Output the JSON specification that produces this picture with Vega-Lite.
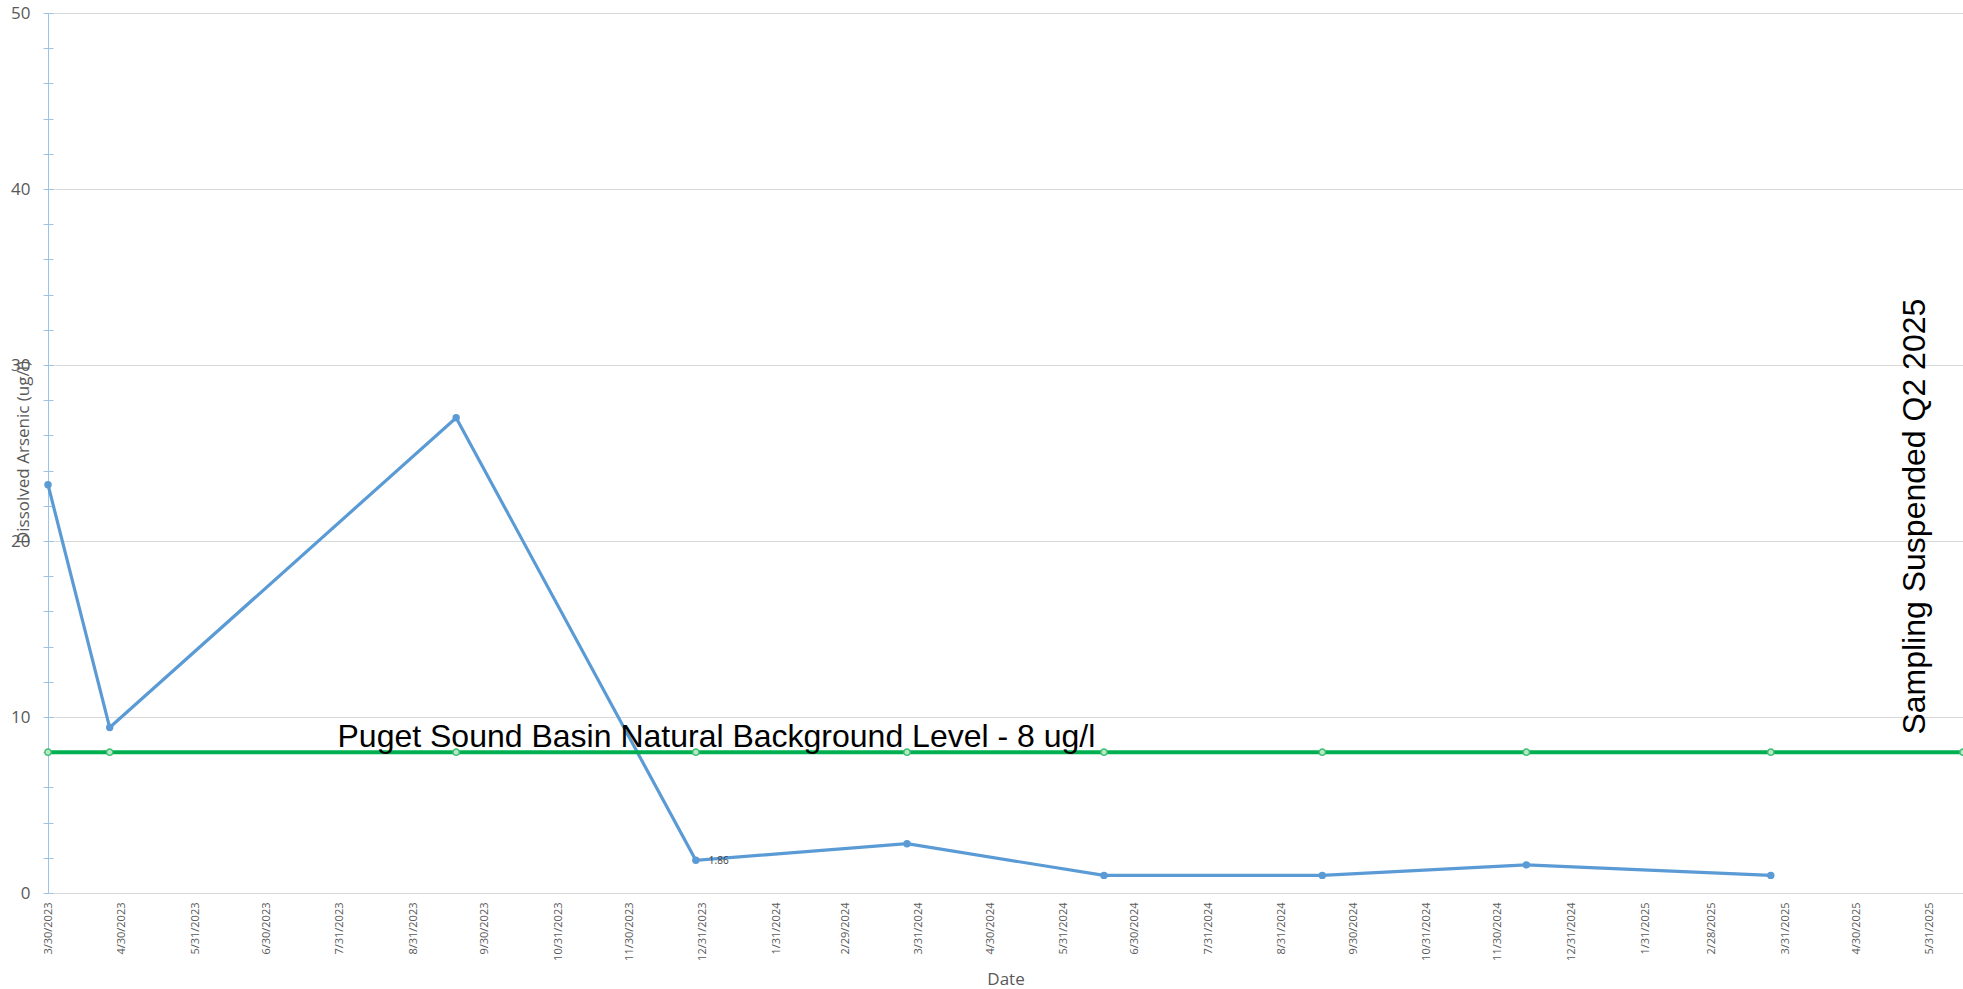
{
  "$schema": "https://vega.github.io/schema/vega-lite/v6.json",
  "width": 1915,
  "height": 880,
  "autosize": {"type": "none"},
  "padding": {"left": 48, "top": 13, "right": 0, "bottom": 96},
  "background": "white",
  "config": {"view": {"stroke": null}, "font": "Open Sans"},
  "datasets": {
    "arsenic": [
      {"date": "2023-03-30", "value": 23.2},
      {"date": "2023-04-25", "value": 9.4},
      {"date": "2023-09-18", "value": 27.0},
      {"date": "2023-12-28", "value": 1.86},
      {"date": "2024-03-26", "value": 2.8},
      {"date": "2024-06-17", "value": 1.0},
      {"date": "2024-09-17", "value": 1.0},
      {"date": "2024-12-12", "value": 1.6},
      {"date": "2025-03-25", "value": 1.0}
    ],
    "bg": [
      {"date": "2023-03-30", "value": 8},
      {"date": "2023-04-25", "value": 8},
      {"date": "2023-09-18", "value": 8},
      {"date": "2023-12-28", "value": 8},
      {"date": "2024-03-26", "value": 8},
      {"date": "2024-06-17", "value": 8},
      {"date": "2024-09-17", "value": 8},
      {"date": "2024-12-12", "value": 8},
      {"date": "2025-03-25", "value": 8},
      {"date": "2025-06-14", "value": 8}
    ],
    "datalabel": [{"date": "2023-12-28", "value": 1.86, "label": "1.86"}],
    "note1": [{"date": "2023-07-30", "value": 8.3, "label": "Puget Sound Basin Natural Background Level - 8 ug/l"}],
    "note2": [{"date": "2025-05-29", "value": 9.0, "label": "Sampling Suspended Q2 2025"}]
  },
  "encoding": {
    "x": {
      "field": "date",
      "type": "temporal",
      "title": "Date",
      "scale": {
        "type": "utc",
        "domain": [{"year": 2023, "month": 3, "date": 30, "utc": true}, {"year": 2025, "month": 6, "date": 14, "utc": true}],
        "nice": false
      },
      "axis": {
        "values": [
          {"year": 2023, "month": 3, "date": 30, "utc": true},
          {"year": 2023, "month": 4, "date": 30, "utc": true},
          {"year": 2023, "month": 5, "date": 31, "utc": true},
          {"year": 2023, "month": 6, "date": 30, "utc": true},
          {"year": 2023, "month": 7, "date": 31, "utc": true},
          {"year": 2023, "month": 8, "date": 31, "utc": true},
          {"year": 2023, "month": 9, "date": 30, "utc": true},
          {"year": 2023, "month": 10, "date": 31, "utc": true},
          {"year": 2023, "month": 11, "date": 30, "utc": true},
          {"year": 2023, "month": 12, "date": 31, "utc": true},
          {"year": 2024, "month": 1, "date": 31, "utc": true},
          {"year": 2024, "month": 2, "date": 29, "utc": true},
          {"year": 2024, "month": 3, "date": 31, "utc": true},
          {"year": 2024, "month": 4, "date": 30, "utc": true},
          {"year": 2024, "month": 5, "date": 31, "utc": true},
          {"year": 2024, "month": 6, "date": 30, "utc": true},
          {"year": 2024, "month": 7, "date": 31, "utc": true},
          {"year": 2024, "month": 8, "date": 31, "utc": true},
          {"year": 2024, "month": 9, "date": 30, "utc": true},
          {"year": 2024, "month": 10, "date": 31, "utc": true},
          {"year": 2024, "month": 11, "date": 30, "utc": true},
          {"year": 2024, "month": 12, "date": 31, "utc": true},
          {"year": 2025, "month": 1, "date": 31, "utc": true},
          {"year": 2025, "month": 2, "date": 28, "utc": true},
          {"year": 2025, "month": 3, "date": 31, "utc": true},
          {"year": 2025, "month": 4, "date": 30, "utc": true},
          {"year": 2025, "month": 5, "date": 31, "utc": true}
        ],
        "labelExpr": "utcFormat(datum.value, '%-m/%-d/%Y')",
        "labelAngle": 270,
        "labelFont": "Open Sans",
        "labelFontSize": 11,
        "labelColor": "#595959",
        "labelPadding": 9,
        "labelOverlap": false,
        "labelFlush": false,
        "labelBound": false,
        "ticks": false,
        "tickSize": 0,
        "grid": false,
        "domainColor": "#d9d9d9",
        "domainWidth": 1,
        "titleFont": "Open Sans",
        "titleFontSize": 17,
        "titleFontWeight": "normal",
        "titleColor": "#595959",
        "titleY": 91,
        "titleBaseline": "alphabetic"
      }
    }
  },
  "layer": [
    {
      "data": {"name": "arsenic"},
      "mark": {"type": "line", "color": "#5b9bd5", "strokeWidth": 3.2},
      "encoding": {
        "y": {
          "field": "value",
          "type": "quantitative",
          "scale": {"domain": [0, 50], "nice": false, "zero": true},
          "axis": {
            "orient": "left",
            "values": [0, 2, 4, 6, 8, 10, 12, 14, 16, 18, 20, 22, 24, 26, 28, 30, 32, 34, 36, 38, 40, 42, 44, 46, 48, 50],
            "tickSize": 5,
            "tickColor": "#9dc3e6",
            "tickWidth": 1,
            "domainColor": "#9dc3e6",
            "domainWidth": 1,
            "labelExpr": "datum.value % 10 === 0 ? datum.label : ''",
            "labelFont": "Open Sans",
            "labelFontSize": 17,
            "labelColor": "#595959",
            "labelPadding": 13,
            "labelOverlap": false,
            "labelFlush": false,
            "grid": true,
            "gridColor": "#d9d9d9",
            "gridOpacity": {"condition": {"test": "datum.value % 10 === 0", "value": 1}, "value": 0},
            "title": "Dissolved Arsenic (ug/l)",
            "titleFont": "Open Sans",
            "titleFontSize": 17,
            "titleFontWeight": "normal",
            "titleColor": "#595959",
            "titleAngle": 270,
            "titleX": -20,
            "titleY": 439,
            "titleAlign": "center",
            "titleBaseline": "alphabetic"
          }
        }
      }
    },
    {
      "data": {"name": "arsenic"},
      "mark": {"type": "point", "filled": true, "color": "#5b9bd5", "size": 55, "opacity": 1},
      "encoding": {"y": {"field": "value", "type": "quantitative", "axis": null}}
    },
    {
      "data": {"name": "bg"},
      "mark": {"type": "line", "color": "#00b050", "strokeWidth": 4},
      "encoding": {
        "y": {
          "field": "value",
          "type": "quantitative",
          "axis": {
            "orient": "left",
            "values": [0, 2, 4, 6, 8, 10, 12, 14, 16, 18, 20, 22, 24, 26, 28, 30, 32, 34, 36, 38, 40, 42, 44, 46, 48, 50],
            "tickSize": 5,
            "tickColor": "#9dc3e6",
            "tickWidth": 1,
            "offset": -5,
            "labels": false,
            "domain": false,
            "grid": false,
            "title": null
          }
        }
      }
    },
    {
      "data": {"name": "bg"},
      "mark": {"type": "point", "filled": true, "fill": "#b8e8c9", "stroke": "#3cbf6e", "strokeWidth": 1.5, "size": 40, "opacity": 1},
      "encoding": {"y": {"field": "value", "type": "quantitative", "axis": null}}
    },
    {
      "data": {"name": "datalabel"},
      "mark": {"type": "text", "align": "left", "baseline": "middle", "dx": 13, "dy": 1, "fontSize": 10, "color": "#404040", "font": "Open Sans"},
      "encoding": {"y": {"field": "value", "type": "quantitative", "axis": null}, "text": {"field": "label"}}
    },
    {
      "data": {"name": "note1"},
      "mark": {"type": "text", "align": "left", "baseline": "alphabetic", "fontSize": 32, "color": "#000000", "font": "Liberation Sans"},
      "encoding": {"y": {"field": "value", "type": "quantitative", "axis": null}, "text": {"field": "label"}}
    },
    {
      "data": {"name": "note2"},
      "mark": {"type": "text", "align": "left", "baseline": "alphabetic", "angle": 270, "fontSize": 32, "color": "#000000", "font": "Liberation Sans"},
      "encoding": {"y": {"field": "value", "type": "quantitative", "axis": null}, "text": {"field": "label"}}
    }
  ],
  "resolve": {"axis": {"y": "independent"}}
}
